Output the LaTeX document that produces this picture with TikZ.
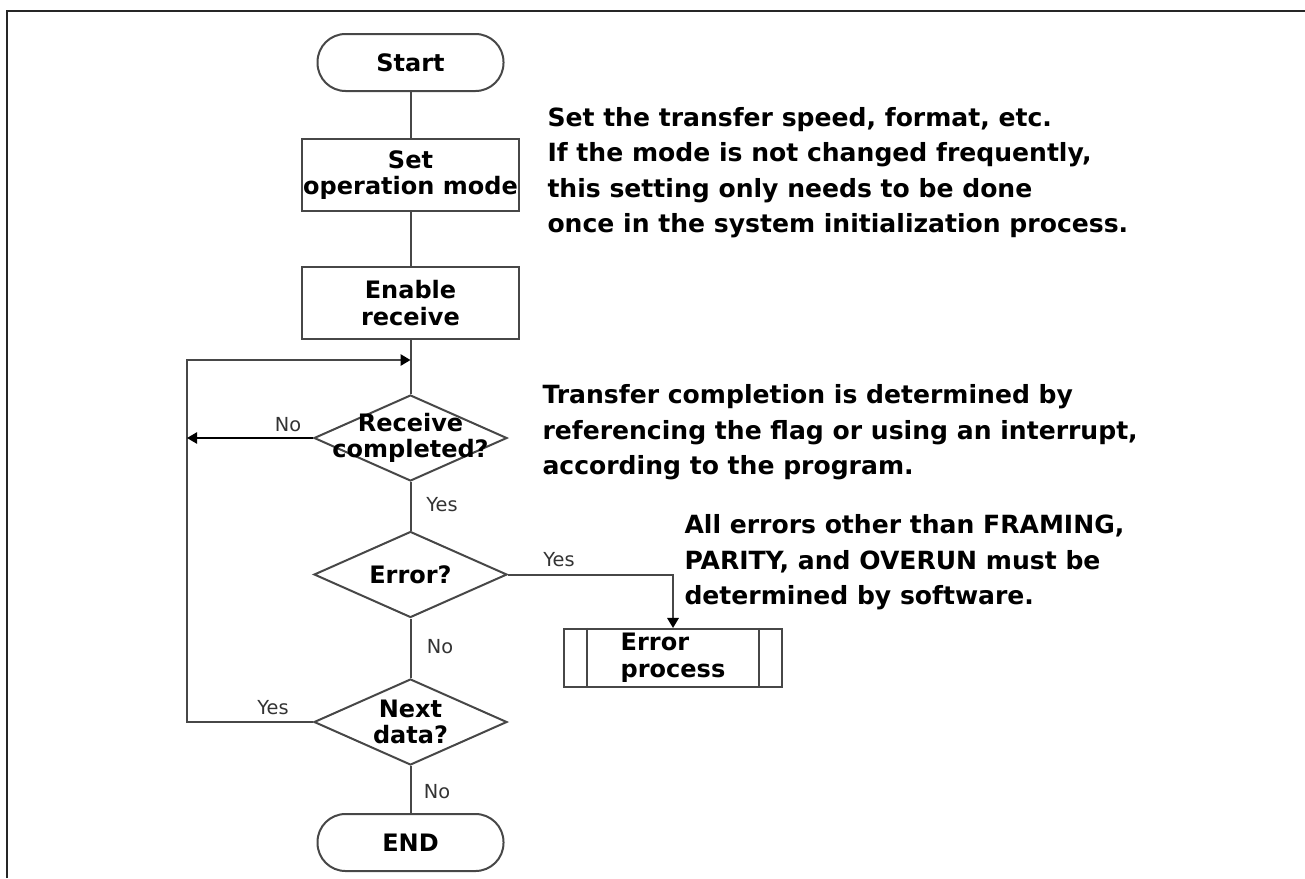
\documentclass[tikz,border=0pt]{standalone}
\usepackage{fontspec}
\setmainfont{DejaVu Sans}
\usetikzlibrary{shapes.geometric,arrows.meta}

\tikzset{every picture/.style={line width=0.75pt}}
\tikzset{
	line/.style={draw=black!72, line width=1.5pt},
	arr/.style={line, -{Triangle[length=7.5pt,width=8.5pt,color=black]}},
	boxfont/.style={font=\bfseries\fontsize{18}{20}\selectfont},
	term/.style={line, boxfont, rectangle, rounded corners=21pt, minimum width=139.5pt, minimum height=42.75pt},
	proc/.style={line, boxfont, rectangle, align=center, inner xsep=0pt, minimum width=162.75pt, minimum height=54pt},
	subproc/.style={line, boxfont, rectangle, align=left, minimum width=163.5pt, minimum height=43.5pt},
	decision/.style={line, diamond, inner sep=0pt, minimum width=144.75pt, minimum height=64.5pt},
	dtext/.style={boxfont, align=center, inner sep=0pt},
	note/.style={anchor=west, align=left, inner sep=0pt, font=\bfseries\fontsize{18.8}{26.6}\selectfont},
	yn/.style={inner sep=0pt, text=black!80, font=\fontsize{14.5}{16}\selectfont}
}

\begin{document}
\begin{tikzpicture}[x=0.75pt,y=0.75pt,yscale=-1,xscale=1]
	\useasboundingbox (0,0) rectangle (1305,878);

	%Frame
	\draw [line width=2.2pt, black!85] (7,878) -- (7,11) -- (1305,11) ;

	%Flowchart: Terminator
	\node [term] (start) at (410.5,62.5) {Start};
	%Flowchart: Process
	\node [proc] (mode) at (410.5,175) {Set\\operation mode};
	%Flowchart: Process
	\node [proc] (enable) at (410.5,303) {Enable\\receive};
	%Flowchart: Decision
	\node [decision, label={[dtext]center:Receive\\completed?}] (recv) at (410.5,438) {};
	%Flowchart: Decision
	\node [decision, label={[dtext]center:Error?}] (err) at (410.5,574.5) {};
	%Flowchart: Decision
	\node [decision, label={[dtext]center:Next\\data?}] (next) at (410.5,722) {};
	%Flowchart: Terminator
	\node [term] (endn) at (410.5,842.5) {END};
	%Flowchart: Predefined Process
	\node [subproc] (errp) at (673,658) {Error\\process};
	\draw [line] ([xshift=18pt]errp.north west) -- ([xshift=18pt]errp.south west) ;
	\draw [line] ([xshift=-18pt]errp.north east) -- ([xshift=-18pt]errp.south east) ;

	\coordinate (join) at (410.5,360);
	\coordinate (loopl) at (187,360);

	%Straight Lines
	\draw [line] (start) -- (mode) ;
	\draw [line] (mode) -- (enable) ;
	\draw [line] (enable) -- (recv) ;
	\draw [line] (recv) -- (err) ;
	\draw [line] (err) -- (next) ;
	\draw [line] (next) -- (endn) ;
	%Arrows
	\draw [arr] (next.west) -| (loopl) -- (join) ;
	\draw [arr, draw=black, line width=1.1pt] (recv.west) -- (recv.west -| loopl) ;
	\draw [arr] (err.east) -| (errp.north) ;

	% Text Node
	\node [yn] (no1) at (288,425) {No};
	% Text Node
	\node [yn] (yes1) at (442,505) {Yes};
	% Text Node
	\node [yn] (yes2) at (559,560) {Yes};
	% Text Node
	\node [yn] (no2) at (440,647) {No};
	% Text Node
	\node [yn] (yes3) at (273,708) {Yes};
	% Text Node
	\node [yn] (no3) at (437,792) {No};

	% Text Node
	\node [note] (note1) at (547,172.5) {Set the transfer speed, format, etc.\\If the mode is not changed frequently,\\this setting only needs to be done\\once in the system initialization process.};
	% Text Node
	\node [note] (note2) at (542,432.5) {Transfer completion is determined by\\referencing the flag or using an interrupt,\\according to the program.};
	% Text Node
	\node [note] (note3) at (684,562.5) {All errors other than FRAMING,\\PARITY, and OVERUN must be\\determined by software.};

\end{tikzpicture}
\end{document}
